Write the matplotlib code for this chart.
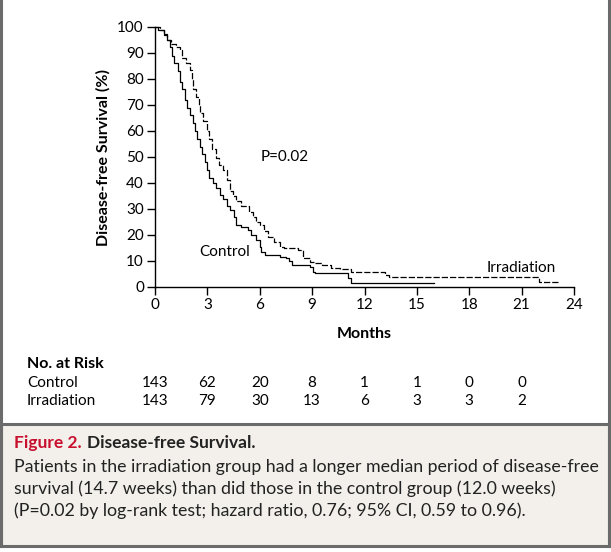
import matplotlib
matplotlib.use("Agg")
import matplotlib.pyplot as plt
from matplotlib.patches import Rectangle
from matplotlib.lines import Line2D
from matplotlib.transforms import blended_transform_factory

plt.rcParams['font.family'] = ['Lato', 'DejaVu Sans']

# ---- data ----
control_t = [0, 0.2, 0.5, 0.7, 0.85, 1.0, 1.1, 1.3, 1.45, 1.55, 1.7, 1.85, 2.0, 2.15, 2.3, 2.4,
             2.55, 2.7, 2.85, 3.0, 3.1, 3.3, 3.5, 3.7, 3.9, 4.1, 4.3, 4.5, 4.65, 4.9, 5.35, 5.5,
             5.8, 6.0, 6.1, 6.3, 7.15, 7.5, 7.65, 7.85, 8.9, 9.05, 9.15, 11.05, 11.2, 16.0]
control_s = [100, 99, 97.5, 95, 92.5, 89, 86, 83, 79, 76, 72, 69, 66, 63, 60, 57,
             54, 51, 48, 45, 42, 40, 38, 35.5, 34, 31, 29.5, 27, 24, 23, 22, 20,
             18, 15.5, 13.5, 12.3, 11.5, 11, 10, 8.5, 7.6, 5.9, 5.3, 3.3, 1.4, 1.4]

irr_t = [0, 0.3, 0.5, 0.7, 0.9, 1.2, 1.45, 1.55, 1.8, 2.0, 2.1, 2.2, 2.35, 2.5, 2.6, 2.75,
         2.95, 3.1, 3.25, 3.5, 3.65, 3.9, 4.1, 4.3, 4.45, 4.65, 4.95, 5.4, 5.6, 5.8, 6.0,
         6.25, 6.5, 6.8, 7.15, 7.4, 8.2, 8.5, 8.9, 9.15, 9.55, 10.1, 10.6, 11.25, 13.2,
         13.4, 22.0, 23.1]
irr_s = [100, 99, 97, 95, 93.5, 92.5, 91, 88, 86, 83.5, 80, 76, 73, 70, 67, 64,
         60, 57, 53, 49.5, 47, 45, 41, 37, 35, 33, 31, 29, 27, 25, 23.8,
         21.5, 19.3, 17.5, 15.5, 14.9, 14.2, 11, 9.7, 9.1, 8.5, 7.4, 6.8, 5.9, 4.6,
         3.8, 1.8, 1.8]

x_ticks = [0, 3, 6, 9, 12, 15, 18, 21, 24]
y_ticks = [0, 10, 20, 30, 40, 50, 60, 70, 80, 90, 100]
risk_times = [0, 3, 6, 9, 12, 15, 18, 21]
risk_control = [143, 62, 20, 8, 1, 1, 0, 0]
risk_irr = [143, 79, 30, 13, 6, 3, 3, 2]

W, H = 611, 552
fig = plt.figure(figsize=(W / 100, H / 100), dpi=100)
fig.patch.set_facecolor('white')

ax = fig.add_axes([155 / W, 1 - 287 / H, (574 - 155) / W, (287 - 27) / H])
ax.step(control_t, control_s, where='post', color='black', lw=0.9, clip_on=False)
ax.step(irr_t, irr_s, where='post', color='black', lw=0.9, clip_on=False,
        linestyle=(0, (5, 1.6)))
ax.set_xlim(0, 24)
ax.set_ylim(0, 100)
ax.set_xticks(x_ticks)
ax.set_yticks(y_ticks)
for s in ['top', 'right']:
    ax.spines[s].set_visible(False)
for s in ['left', 'bottom']:
    ax.spines[s].set_linewidth(1.0)
ax.tick_params(axis='both', direction='out', length=6, width=1.0, labelsize=11,
               colors='black', pad=2)
ax.set_ylabel('Disease-free Survival (%)', fontsize=11.5, fontweight='bold', labelpad=5)
ax.set_xlabel('Months', fontsize=11.5, fontweight='bold', labelpad=11)

ax.text(7.45, 50, 'P=0.02', fontsize=11, ha='center', va='center')
ax.text(4.0, 13.5, 'Control', fontsize=11, ha='center', va='center')
ax.text(21.0, 7.3, 'Irradiation', fontsize=11, ha='center', va='center')

# risk table
fig.text(27 / W, 1 - 364 / H, 'No. at Risk', fontsize=11.5, fontweight='bold', va='center')
fig.text(27 / W, 1 - 383 / H, 'Control', fontsize=11, va='center')
fig.text(27 / W, 1 - 401 / H, 'Irradiation', fontsize=11, va='center')
tr = blended_transform_factory(ax.transData, fig.transFigure)
for t, c, r in zip(risk_times, risk_control, risk_irr):
    ax.text(t, 1 - 383 / H, str(c), transform=tr, fontsize=11, ha='center', va='center')
    ax.text(t, 1 - 401 / H, str(r), transform=tr, fontsize=11, ha='center', va='center')

# caption box and frame
grey = '#6b6b6b'
fig.add_artist(Rectangle((1 / W, 1 - 546 / H), 608 / W, (546 - 424) / H,
                         transform=fig.transFigure, facecolor='#f3f0eb',
                         edgecolor=grey, lw=2.2))
fig.add_artist(Line2D([1 / W, 1 / W], [1 - 546 / H, 1], transform=fig.transFigure,
                      color=grey, lw=2.2))
fig.add_artist(Line2D([609 / W, 609 / W], [1 - 546 / H, 1], transform=fig.transFigure,
                      color=grey, lw=2.2))

t1 = fig.text(14 / W, 1 - 443 / H, 'Figure 2.', fontsize=12.5, fontweight='bold',
              color='#c8102e', va='center')
fig.canvas.draw()
bb = t1.get_window_extent()
fig.text((bb.x1 + 5) / W, 1 - 443 / H, 'Disease-free Survival.', fontsize=12.5,
         fontweight='bold', color='#222222', va='center')
caption = ["Patients in the irradiation group had a longer median period of disease-free",
           "survival (14.7 weeks) than did those in the control group (12.0 weeks)",
           "(P=0.02 by log-rank test; hazard ratio, 0.76; 95% CI, 0.59 to 0.96)."]
cap_texts = []
for i, line in enumerate(caption):
    cap_texts.append(fig.text(14 / W, 1 - (467 + 22 * i) / H, line, fontsize=12,
                              color='#222222', va='center'))
fig.canvas.draw()
w0 = cap_texts[0].get_window_extent().width
fs = 12 * (598 - 14) / w0
for t in cap_texts:
    t.set_fontsize(fs)

fig.savefig('out.png', dpi=100)
